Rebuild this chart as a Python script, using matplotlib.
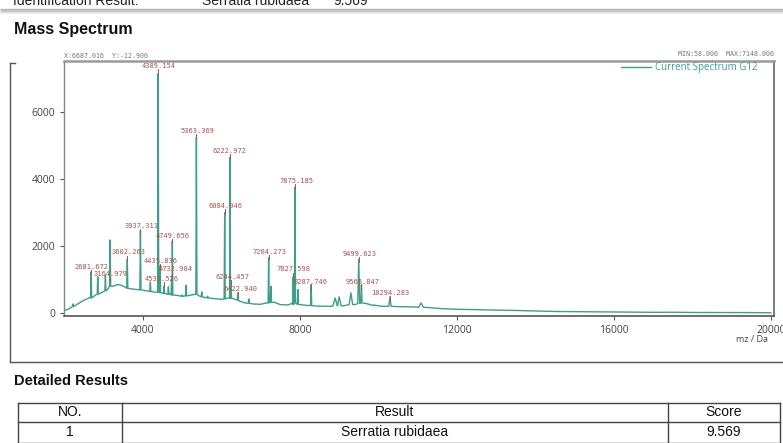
import matplotlib
matplotlib.use("Agg")
import matplotlib.pyplot as plt
import numpy as np

# ---------------- data ----------------
baseline_mz = [2000, 2100, 2200, 2350, 2500, 2650, 2800, 3000, 3100, 3250, 3350, 3450, 3550,
               3700, 3850, 4000, 4150, 4300, 4500, 4700, 4900, 5100, 5250, 5450, 5600,
               5800, 6000, 6150, 6300, 6450, 6600, 6800, 7000, 7150, 7350, 7500, 7700,
               7800, 8000, 8150, 8400, 8600, 8800, 9100, 9400, 9700, 9850, 10100, 10500,
               10900, 11300, 11600, 12000, 12500, 13000, 13500, 14000, 14500, 15000,
               15500, 16000, 16500, 17000, 17500, 18000, 18500, 19000, 19500, 20000]
baseline_int = [80, 110, 190, 280, 380, 460, 540, 640, 700, 800, 850, 830, 770,
                720, 700, 680, 650, 620, 590, 560, 520, 500, 540, 500, 460,
                430, 410, 440, 430, 360, 300, 270, 260, 300, 320, 250, 240,
                290, 250, 230, 210, 200, 200, 210, 250, 280, 230, 200, 190,
                180, 160, 130, 110, 100, 85, 75, 60, 45, 40,
                35, 30, 28, 20, 22, 15, 14, 10, 12, 5]

peak_mz = [2220, 2681.672, 2850, 3045, 3164.979, 3602.263, 3937.311, 4190, 4389.154,
           4435.836, 4539.526, 4650, 4732.984, 4749.656, 5000, 5100, 5363.369, 5500,
           5650, 6084.046, 6222.972, 6244.457, 6422.940, 6700, 7204.273, 7260,
           7827.598, 7875.185, 7950, 8287.746, 8900, 9000, 9300, 9499.623, 9568.847,
           9900, 10294.283, 11087]
peak_int = [270, 1230, 1080, 1130, 2180, 1600, 2450, 920, 7148,
            1400, 800, 780, 1100, 2150, 540, 830, 5250, 630,
            500, 3000, 4650, 900, 600, 420, 1650, 800,
            1080, 3750, 700, 850, 450, 480, 600, 1600, 850,
            240, 480, 300]
peak_base = [190, 450, 560, 660, 800, 740, 690, 640, 620,
             610, 580, 560, 540, 540, 500, 510, 560, 480,
             450, 420, 450, 440, 380, 290, 300, 320,
             260, 300, 260, 220, 210, 220, 250, 280, 300,
             230, 200, 170]

label_text = ["2681.672", "3164.979", "3602.263", "3937.311", "4389.154", "4435.836",
              "4539.526", "4732.984", "4749.656", "5363.369", "6084.046", "6222.972",
              "6244.457", "6422.940", "7204.273", "7827.598", "7875.185", "8287.746",
              "9499.623", "9568.847", "10294.283"]
label_peak = [2681.672, 3164.979, 3602.263, 3937.311, 4389.154, 4435.836,
              4539.526, 4732.984, 4749.656, 5363.369, 6084.046, 6222.972,
              6244.457, 6422.940, 7204.273, 7827.598, 7875.185, 8287.746,
              9499.623, 9568.847, 10294.283]

x_ticks = [4000, 8000, 12000, 16000, 20000]
y_ticks = [0, 2000, 4000, 6000]

table_header = ["NO.", "Result", "Score"]
table_row = ["1", "Serratia rubidaea", "9.569"]

# ---------------- layout (label placement, in data units) ----------------
label_x = [2693, 3177, 3636, 3967, 4408, 4451, 4484, 4823, 4757, 5383, 6107, 6217,
           6275, 6489, 7236, 7847, 7916, 8273, 9529, 9587, 10311]
label_y = [1382, 1155, 1812, 2597, 7382, 1561, 1015, 1304, 2307, 5442, 3194, 4845,
           1084, 725, 1830, 1304, 3949, 916, 1761, 934, 606]
wide_peaks = {8900: 60, 9000: 50, 9300: 45, 11087: 60, 9499.623: 25, 10294.283: 30}

TEAL = "#3f9e88"
LBL = "#a4554f"

# build spectrum polyline
pts = []
spans = []
for m, h, b in zip(peak_mz, peak_int, peak_base):
    w = wide_peaks.get(m, 14)
    pts += [(m - w, b), (m, h), (m + w, b)]
    spans.append((m - w - 5, m + w + 5))
for m, v in zip(baseline_mz, baseline_int):
    if not any(a <= m <= c for a, c in spans):
        pts.append((m, v))
pts.sort()
sx = [p[0] for p in pts]
sy = [p[1] for p in pts]

W, H = 783, 443
fig = plt.figure(figsize=(W / 100, H / 100), dpi=100)

# overlay axes in pixel coordinates
ov = fig.add_axes([0, 0, 1, 1], zorder=0)
ov.set_xlim(0, W)
ov.set_ylim(H, 0)
ov.axis("off")

# cut-off header line at the very top
ov.text(13, 4.5, "Identification Result:", fontsize=10, family="Liberation Sans",
        va="baseline", ha="left", color="#222")
ov.text(202, 4.5, "Serratia rubidaea", fontsize=10, family="Liberation Sans",
        va="baseline", ha="left", color="#222")
ov.text(333, 4.5, "9.569", fontsize=10, family="Liberation Sans",
        va="baseline", ha="left", color="#222")
ov.add_patch(plt.Rectangle((0, 0), W, 8, color="white", alpha=0.35, lw=0))
for i, a in enumerate(np.linspace(0.55, 0.0, 6)):
    ov.plot([0, W], [8.5 + i, 8.5 + i], color="#888", alpha=a, lw=1, solid_capstyle="butt")

ov.text(14, 29, "Mass Spectrum", fontsize=11.5, fontweight="bold",
        family="Liberation Sans", va="center", ha="left", color="#111")

# outer frame
ov.plot([9.5, 9.5], [63, 361.5], color="#555", lw=1)
ov.plot([9.5, 15], [63, 63], color="#555", lw=1)
ov.plot([9.5, W], [361.5, 361.5], color="#555", lw=1)

ov.text(64, 56, "X:6687.016  Y:-12.900", fontsize=4.8, family="DejaVu Sans Mono",
        color="#777", va="center", ha="left")
ov.text(774, 54, "MIN:58.000  MAX:7148.000", fontsize=4.8, family="DejaVu Sans Mono",
        color="#777", va="center", ha="right")
ov.text(752, 339, "mz / Da", fontsize=6.5, color="#444", va="center", ha="center",
        family="Open Sans")

ov.text(14, 381, "Detailed Results", fontsize=10.5, fontweight="bold",
        family="Liberation Sans", va="center", ha="left", color="#111")

# table
tl, tr = 18, 780
cols = [18, 122, 668, 780]
ov.plot([tl, tr], [403, 403], color="#444", lw=1)
ov.plot([tl, tr], [422, 422], color="#444", lw=1)
ov.plot([tl, tr], [443, 443], color="#444", lw=1)
for c in cols:
    ov.plot([c, c], [403, 443], color="#444", lw=1)
centers = [(cols[i] + cols[i + 1]) / 2 for i in range(3)]
for cx, t in zip(centers, table_header):
    ov.text(cx, 412.5, t, fontsize=10, family="Liberation Sans", ha="center", va="center", color="#111")
for cx, t in zip(centers, table_row):
    ov.text(cx, 432.5, t, fontsize=10, family="Liberation Sans", ha="center", va="center", color="#111")

# spectrum axes
ax = fig.add_axes([64 / W, 1 - 316 / H, 710 / W, 255 / H], zorder=1)
ax.patch.set_alpha(0)
ax.plot(sx, sy, color=TEAL, lw=1.0)
ax.set_xlim(1990, 20080)
ax.set_ylim(-90, 7522)
ax.set_xticks(x_ticks)
ax.set_xticklabels([str(v) for v in x_ticks])
ax.set_yticks(y_ticks)
ax.set_yticklabels([str(v) for v in y_ticks])
ax.tick_params(axis="both", labelsize=7.5, labelcolor="#444", color="#555", length=3, width=0.8)
for lab in ax.get_xticklabels() + ax.get_yticklabels():
    lab.set_family("Open Sans")
ax.spines["top"].set_color("#9a9a9a")
ax.spines["top"].set_linewidth(1.8)
ax.spines["right"].set_color("#666")
ax.spines["right"].set_linewidth(1.2)
ax.spines["left"].set_color("#888")
ax.spines["left"].set_linewidth(1.0)
ax.spines["bottom"].set_color("#555")
ax.spines["bottom"].set_linewidth(1.2)

for t, pm, lx, ly in zip(label_text, label_peak, label_x, label_y):
    ax.text(lx, ly, t, fontsize=5, family="DejaVu Sans Mono", color=LBL,
            ha="center", va="center", clip_on=False)
    ax.plot([pm, pm], [ly - 230, ly - 100], color=LBL, lw=0.7)

# legend (pixel coords, drawn above spine)
ov2 = fig.add_axes([0, 0, 1, 1], zorder=2)
ov2.set_xlim(0, W)
ov2.set_ylim(H, 0)
ov2.axis("off")
ov2.plot([621, 651], [67, 67], color=TEAL, lw=1)
ov2.text(655, 67, "Current Spectrum G12", fontsize=7, color=TEAL, va="center",
         ha="left", family="Open Sans")

fig.savefig("out.png", dpi=100)
